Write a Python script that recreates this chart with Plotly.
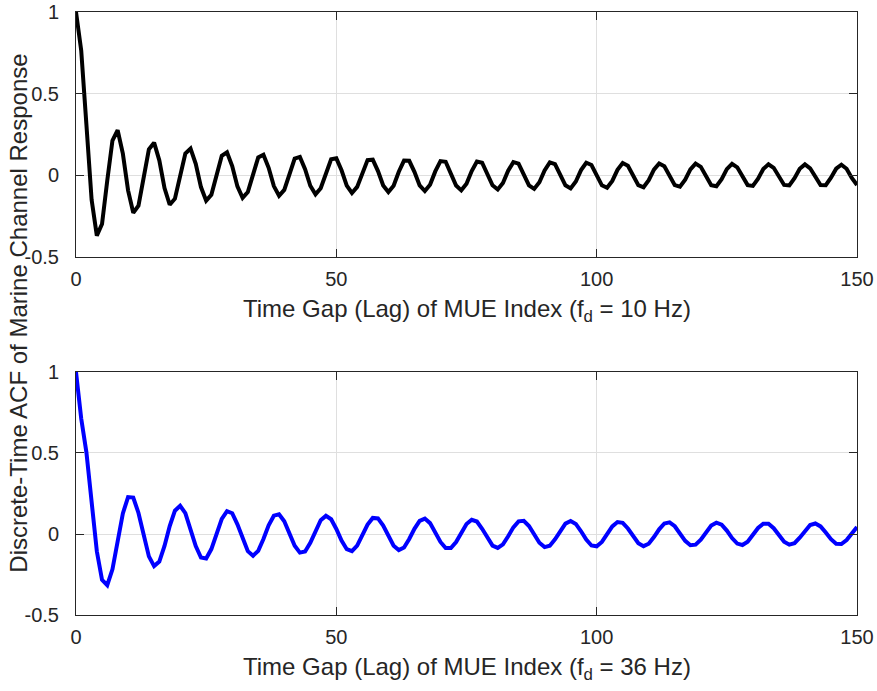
import plotly.graph_objects as go

lags = list(range(151))

acf_fd10 = [
    1.0, 0.765, 0.31, -0.15, -0.369, -0.298, -0.033, 0.213, 0.276, 0.133,
    -0.092, -0.229, -0.186, -0.012, 0.159, 0.200, 0.092, -0.078, -0.180, -0.143,
    -0.002, 0.134, 0.164, 0.071, -0.072, -0.155, -0.119, 0.004, 0.120, 0.141,
    0.057, -0.068, -0.138, -0.102, 0.009, 0.110, 0.126, 0.046, -0.066, -0.125,
    -0.089, 0.013, 0.103, 0.113, 0.038, -0.064, -0.116, -0.079, 0.016, 0.098,
    0.104, 0.031, -0.063, -0.108, -0.071, 0.019, 0.093, 0.096, 0.026, -0.062,
    -0.102, -0.064, 0.022, 0.090, 0.089, 0.021, -0.062, -0.096, -0.058, 0.024,
    0.087, 0.083, 0.016, -0.062, -0.092, -0.052, 0.026, 0.084, 0.077, 0.012,
    -0.061, -0.087, -0.047, 0.028, 0.081, 0.072, 0.008, -0.061, -0.083, -0.042,
    0.030, 0.079, 0.068, 0.005, -0.061, -0.080, -0.038, 0.032, 0.077, 0.063,
    0.002, -0.061, -0.076, -0.034, 0.034, 0.075, 0.059, -0.001, -0.060, -0.073,
    -0.030, 0.035, 0.073, 0.056, -0.004, -0.060, -0.070, -0.027, 0.036, 0.072,
    0.052, -0.007, -0.060, -0.067, -0.024, 0.038, 0.070, 0.049, -0.009, -0.060,
    -0.065, -0.021, 0.039, 0.068, 0.046, -0.011, -0.059, -0.062, -0.018, 0.040,
    0.067, 0.043, -0.013, -0.059, -0.060, -0.015, 0.041, 0.065, 0.040, -0.016,
    -0.059,
]

acf_fd36 = [
    1.0, 0.713, 0.504, 0.177, -0.107, -0.283, -0.316, -0.218, -0.044, 0.127,
    0.228, 0.225, 0.130, -0.011, -0.138, -0.198, -0.170, -0.074, 0.049, 0.144,
    0.174, 0.129, 0.032, -0.075, -0.145, -0.151, -0.093, 0.002, 0.093, 0.141,
    0.128, 0.060, -0.031, -0.106, -0.134, -0.104, -0.031, 0.054, 0.113, 0.122,
    0.079, 0.004, -0.072, -0.115, -0.108, -0.055, 0.020, 0.085, 0.112, 0.091,
    0.031, -0.041, -0.094, -0.106, -0.072, -0.008, 0.058, 0.099, 0.096, 0.052,
    -0.013, -0.072, -0.099, -0.083, -0.031, 0.032, 0.081, 0.095, 0.067, 0.011,
    -0.049, -0.087, -0.087, -0.050, 0.008, 0.062, 0.088, 0.077, 0.032, -0.025,
    -0.072, -0.086, -0.064, -0.014, 0.041, 0.078, 0.081, 0.049, -0.003, -0.054,
    -0.081, -0.072, -0.033, 0.020, 0.064, 0.080, 0.062, 0.017, -0.035, -0.071,
    -0.076, -0.049, 0.000, 0.047, 0.074, 0.069, 0.034, -0.015, -0.057, -0.075,
    -0.060, -0.019, 0.029, 0.065, 0.072, 0.048, 0.004, -0.042, -0.069, -0.066,
    -0.035, 0.011, 0.052, 0.070, 0.058, 0.021, -0.025, -0.059, -0.068, -0.048,
    -0.007, 0.037, 0.064, 0.064, 0.036, -0.007, -0.047, -0.066, -0.057, -0.023,
    0.020, 0.055, 0.065, 0.047, 0.009, -0.032, -0.060, -0.062, -0.037, 0.004,
    0.043,
]

x_ticks = [0, 50, 100, 150]
y_ticks = [-0.5, 0, 0.5, 1]
y_tick_labels = ["-0.5", "0", "0.5", "1"]

x_title_top = "Time Gap (Lag) of MUE Index (f<sub>d</sub> = 10 Hz)"
x_title_bottom = "Time Gap (Lag) of MUE Index (f<sub>d</sub> = 36 Hz)"
y_title = "Discrete-Time ACF of Marine Channel Response"

FONT = "Liberation Sans, Arial, sans-serif"
AX = "#262626"
GRID = "#dfdfdf"

fig = go.Figure()
fig.add_trace(go.Scatter(x=lags, y=acf_fd10, mode="lines",
                         line=dict(color="#000000", width=4),
                         xaxis="x", yaxis="y", showlegend=False))
fig.add_trace(go.Scatter(x=lags, y=acf_fd36, mode="lines",
                         line=dict(color="#0000ff", width=4),
                         xaxis="x2", yaxis="y2", showlegend=False))

common_x = dict(range=[0, 150], tickvals=x_ticks, ticks="inside", ticklen=8,
                tickcolor=AX, showline=True, linecolor=AX, linewidth=1,
                mirror="ticks", showgrid=True, gridcolor=GRID, zeroline=False,
                automargin=False, ticklabelstandoff=4,
                tickfont=dict(family=FONT, size=20, color=AX))
common_y = dict(range=[-0.5, 1], tickvals=y_ticks, ticktext=y_tick_labels,
                ticks="inside", ticklen=8, tickcolor=AX, showline=True,
                linecolor=AX, linewidth=1, mirror="ticks", showgrid=True,
                gridcolor=GRID, zeroline=False, automargin=False,
                ticklabelstandoff=12,
                tickfont=dict(family=FONT, size=20, color=AX))

fig.update_layout(
    width=877, height=691,
    margin=dict(l=76, r=20, t=12, b=76, autoexpand=False),
    paper_bgcolor="white", plot_bgcolor="white",
    xaxis=dict(domain=[0, 1], anchor="y", **common_x),
    yaxis=dict(domain=[0.5937, 1], anchor="x", **common_y),
    xaxis2=dict(domain=[0, 1], anchor="y2", **common_x),
    yaxis2=dict(domain=[0, 0.403], anchor="x2", **common_y),
    annotations=[
        dict(text=x_title_top, xref="paper", yref="paper", x=0.5, y=0.5058,
             xanchor="center", yanchor="middle", showarrow=False,
             font=dict(family=FONT, size=24, color=AX)),
        dict(text=x_title_bottom, xref="paper", yref="paper", x=0.5, y=-0.0879,
             xanchor="center", yanchor="middle", showarrow=False,
             font=dict(family=FONT, size=24, color=AX)),
        dict(text=y_title, xref="paper", yref="paper", x=-0.074, y=0.5,
             xanchor="center", yanchor="middle", textangle=-90, showarrow=False,
             font=dict(family=FONT, size=24, color=AX)),
    ],
)

# Remove the default 8px page margin so the figure fills the window exactly.
fig.write_html("out.html",
               config={"displayModeBar": False},
               post_script="document.body.style.margin='0';")
